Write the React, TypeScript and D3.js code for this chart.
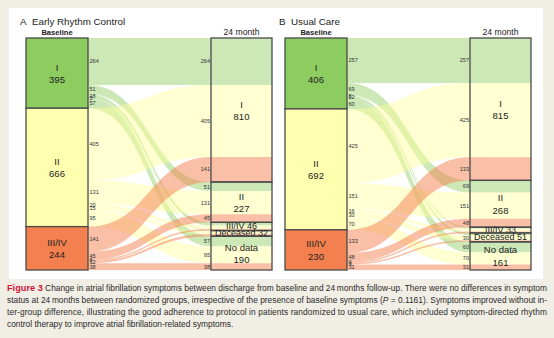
import React from "react";
import * as d3 from "d3";

const sourceLabels = ["I", "II", "III/IV"];
const targetLabels = ["I", "II", "III/IV", "Deceased", "No data"];
// rows: baseline class, columns: 24 month status
const earlyRhythmFlows = [
  [264, 51, 18, 5, 57],
  [405, 131, 20, 15, 95],
  [141, 45, 8, 12, 38],
];
const usualCareFlows = [
  [257, 69, 8, 12, 60],
  [425, 151, 16, 30, 70],
  [133, 48, 9, 9, 31],
];
const panelLetters = ["A", "B"];
const panelTitles = ["Early Rhythm Control", "Usual Care"];
const captionLines = [
  " Change in atrial fibrillation symptoms between discharge from baseline and 24\u2009months follow-up. There were no differences in symptom",
  "status at 24\u2009months between randomized groups, irrespective of the presence of baseline symptoms (",
  "ter-group difference, illustrating the good adherence to protocol in patients randomized to usual care, which included symptom-directed rhythm",
  "control therapy to improve atrial fibrillation-related symptoms.",
];

const W = 554;
const H = 338;
const nodeColors = ["#8dcc5f", "#ffffb0", "#f4804f"];
const linkColors = ["#8dcc5f", "#ffff99", "#f4804f"];
const linkOpacity = [0.45, 0.45, 0.5];
const FONT = "'Liberation Sans', Arial, sans-serif";
const CAP_FONT = "'Liberation Sans Narrow', 'Arial Narrow', 'Liberation Sans', sans-serif";

function Panel({ flows, letter, title, left }: { flows: number[][]; letter: string; title: string; left: number }) {
  const nodeW = 62;
  const rightW = 61;
  const gap = 123;
  const xL0 = left;
  const xL1 = left + nodeW;
  const xR0 = xL1 + gap;
  const xR1 = xR0 + rightW;
  const srcTotals = flows.map((r) => d3.sum(r));
  const tgtTotals = targetLabels.map((_, j) => d3.sum(flows, (r) => r[j]));
  const total = d3.sum(srcTotals);
  const y = d3.scaleLinear().domain([0, total]).range([38, 270]);

  const srcStart: number[] = [];
  let acc = 0;
  srcTotals.forEach((t) => {
    srcStart.push(acc);
    acc += t;
  });
  const tgtStart: number[] = [];
  acc = 0;
  tgtTotals.forEach((t) => {
    tgtStart.push(acc);
    acc += t;
  });

  type L = { s: number; t: number; v: number; y0a: number; y0b: number; y1a: number; y1b: number };
  const links: L[] = [];
  const srcOff = [...srcStart];
  const tgtOff = [...tgtStart];
  flows.forEach((row, i) => {
    row.forEach((v, j) => {
      links.push({ s: i, t: j, v, y0a: srcOff[i], y0b: srcOff[i] + v, y1a: 0, y1b: 0 });
      srcOff[i] += v;
    });
  });
  targetLabels.forEach((_, j) => {
    links
      .filter((l) => l.t === j)
      .sort((a, b) => a.s - b.s)
      .forEach((l) => {
        l.y1a = tgtOff[j];
        l.y1b = tgtOff[j] + l.v;
        tgtOff[j] += l.v;
      });
  });

  const xm = (xL1 + xR0) / 2;
  const band = (l: L) => {
    const a0 = y(l.y0a), b0 = y(l.y0b), a1 = y(l.y1a), b1 = y(l.y1b);
    const p = d3.path();
    p.moveTo(xL1, a0);
    p.bezierCurveTo(xm, a0, xm, a1, xR0, a1);
    p.lineTo(xR1, a1);
    p.lineTo(xR1, b1);
    p.lineTo(xR0, b1);
    p.bezierCurveTo(xm, b1, xm, b0, xL1, b0);
    p.closePath();
    return p.toString();
  };

  return (
    <g>
      <text x={left - 6} y={25} fontSize={9.8} fontFamily={FONT} fill="#222">
        {letter}
      </text>
      <text x={left + 6} y={25} fontSize={9.8} fontFamily={FONT} fill="#222">
        {title}
      </text>
      <text x={(xL0 + xL1) / 2} y={34.5} fontSize={7.6} fontWeight="bold" textAnchor="middle" fontFamily={FONT} fill="#222">
        Baseline
      </text>
      <text x={(xR0 + xR1) / 2} y={35} fontSize={8.6} textAnchor="middle" fontFamily={FONT} fill="#222">
        24 month
      </text>
      {links.map((l, k) => (
        <path key={k} d={band(l)} fill={linkColors[l.s]} fillOpacity={linkOpacity[l.s]} />
      ))}
      {sourceLabels.map((lab, i) => {
        const y0 = y(srcStart[i]);
        const y1 = y(srcStart[i] + srcTotals[i]);
        const cy = (y0 + y1) / 2;
        return (
          <g key={i}>
            <rect x={xL0} y={y0} width={nodeW} height={y1 - y0} fill={nodeColors[i]} stroke="#4a4a4a" strokeWidth={1.3} />
            <text x={(xL0 + xL1) / 2} y={cy - 6} fontSize={9.5} textAnchor="middle" dominantBaseline="central" fontFamily={FONT} fill="#222">
              {lab}
            </text>
            <text x={(xL0 + xL1) / 2} y={cy + 6.5} fontSize={9.5} textAnchor="middle" dominantBaseline="central" fontFamily={FONT} fill="#222">
              {srcTotals[i]}
            </text>
          </g>
        );
      })}
      {targetLabels.map((lab, j) => {
        const y0 = y(tgtStart[j]);
        const y1 = y(tgtStart[j] + tgtTotals[j]);
        const cy = (y0 + y1) / 2;
        const big = y1 - y0 > 20;
        return (
          <g key={j}>
            <rect x={xR0} y={y0} width={rightW} height={y1 - y0} fill="none" stroke="#4a4a4a" strokeWidth={1.3} />
            {big ? (
              <>
                <text x={(xR0 + xR1) / 2} y={cy - 6} fontSize={9.5} textAnchor="middle" dominantBaseline="central" fontFamily={FONT} fill="#222">
                  {lab}
                </text>
                <text x={(xR0 + xR1) / 2} y={cy + 6.5} fontSize={9.5} textAnchor="middle" dominantBaseline="central" fontFamily={FONT} fill="#222">
                  {tgtTotals[j]}
                </text>
              </>
            ) : (
              <text x={(xR0 + xR1) / 2} y={cy} fontSize={9} textAnchor="middle" dominantBaseline="central" fontFamily={FONT} fill="#222">
                {lab} {tgtTotals[j]}
              </text>
            )}
          </g>
        );
      })}
      {links.map((l, k) => (
        <text key={"l" + k} x={xL1 + 1.5} y={(y(l.y0a) + y(l.y0b)) / 2} fontSize={5.6} dominantBaseline="central" fontFamily={FONT} fill="#333">
          {l.v}
        </text>
      ))}
      {links
        .filter((l) => l.v >= 25)
        .map((l, k) => (
          <text key={"r" + k} x={xR0 - 1} y={(y(l.y1a) + y(l.y1b)) / 2} fontSize={5.6} textAnchor="end" dominantBaseline="central" fontFamily={FONT} fill="#333">
            {l.v}
          </text>
        ))}
    </g>
  );
}

export default function App() {
  return (
    <svg width={W} height={H} style={{ position: "absolute", left: 0, top: 0 }}>
      <rect x={0} y={0} width={W} height={H} fill="#f1eee5" />
      <rect x={9} y={8} width={534} height={271} fill="#ffffff" />
      <Panel flows={earlyRhythmFlows} letter={panelLetters[0]} title={panelTitles[0]} left={26} />
      <Panel flows={usualCareFlows} letter={panelLetters[1]} title={panelTitles[1]} left={285} />
      <text x={7} y={290.5} fontSize={8.4} fontFamily={CAP_FONT} fill="#2a2a2a" textLength={540} lengthAdjust="spacing">
        <tspan fontWeight="bold" fill="#d2143a" fontSize={9.2}>
          Figure 3
        </tspan>
        <tspan>{captionLines[0]}</tspan>
      </text>
      <text x={7} y={302.5} fontSize={8.4} fontFamily={CAP_FONT} fill="#2a2a2a" textLength={540} lengthAdjust="spacing">
        <tspan>{captionLines[1]}</tspan>
        <tspan fontStyle="italic">P</tspan>
        <tspan>{" = 0.1161). Symptoms improved without in-"}</tspan>
      </text>
      <text x={7} y={314.5} fontSize={8.4} fontFamily={CAP_FONT} fill="#2a2a2a" textLength={540} lengthAdjust="spacing">
        {captionLines[2]}
      </text>
      <text x={7} y={326.5} fontSize={8.4} fontFamily={CAP_FONT} fill="#2a2a2a">
        {captionLines[3]}
      </text>
    </svg>
  );
}
